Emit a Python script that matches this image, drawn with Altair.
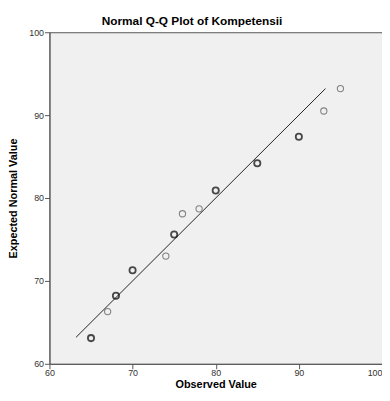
import altair as alt
import pandas as pd

observed = [65, 67, 68, 70, 74, 75, 76, 78, 80, 85, 90, 93, 95]
expected = [63.1, 66.3, 68.2, 71.3, 73.0, 75.6, 78.1, 78.7, 80.9, 84.2, 87.4, 90.5, 93.2]
weight = ["bold", "light", "bold", "bold", "light", "bold", "light", "light", "bold", "bold", "bold", "light", "light"]
line_x = [63.2, 93.2]
line_y = [63.2, 93.2]

pts = pd.DataFrame({"obs": observed, "exp": expected, "w": weight})
ln = pd.DataFrame({"obs": line_x, "exp": line_y})

xs = alt.Scale(domain=[60, 100], nice=False, zero=False)
ys = alt.Scale(domain=[60, 100], nice=False, zero=False)

xax = alt.Axis(values=[60, 70, 80, 90, 100], title="Observed Value", grid=False,
               tickSize=5, labelPadding=0, titlePadding=1, labelFlush=False,
               labelAlign=alt.ExprRef("datum.value == 100 ? 'right' : 'center'"))
yax = alt.Axis(values=[60, 70, 80, 90, 100], title="Expected Normal Value", grid=False,
               tickSize=5, labelPadding=1, titlePadding=10, labelFlush=False)

line = alt.Chart(ln).mark_line(color="#222222", strokeWidth=1).encode(
    x=alt.X("obs:Q", scale=xs, axis=xax),
    y=alt.Y("exp:Q", scale=ys, axis=yax),
)

points = alt.Chart(pts).mark_point(shape="circle", filled=False, size=40).encode(
    x=alt.X("obs:Q", scale=xs),
    y=alt.Y("exp:Q", scale=ys),
    strokeWidth=alt.StrokeWidth("w:N", scale=alt.Scale(domain=["bold", "light"], range=[1.8, 1.1]), legend=None),
    color=alt.Color("w:N", scale=alt.Scale(domain=["bold", "light"], range=["#000000", "#555555"]), legend=None),
)

chart = (line + points).properties(
    width=337,
    height=336,
    autosize=alt.AutoSizeParams(type="none"),
    padding={"left": 42, "top": 22, "right": 0, "bottom": 27},
    title=alt.TitleParams("Normal Q-Q Plot of Kompetensii", fontSize=12, font="Liberation Sans",
                          fontWeight="bold", color="#000000", anchor="middle", dx=-24, offset=0),
).configure_view(
    fill="#f0f0f0", stroke="#555555", strokeWidth=1
).configure_axis(
    labelFont="Liberation Sans", labelFontSize=9, labelColor="#333333",
    titleFont="Liberation Sans", titleFontSize=11, titleFontWeight="bold", titleColor="#000000",
    domainColor="#555555", tickColor="#555555",
)

chart.save("out.html", embed_options={"renderer": "svg", "actions": False})
